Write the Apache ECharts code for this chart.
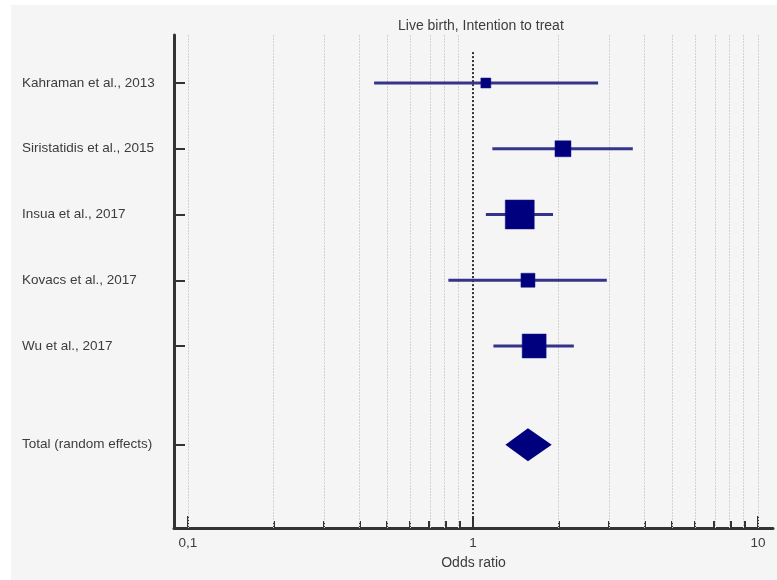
<!DOCTYPE html>
<html>
<head>
<meta charset="utf-8">
<script src="https://cdn.jsdelivr.net/npm/echarts@6/dist/echarts.min.js"></script>
<style>
  html, body { margin: 0; padding: 0; background: #ffffff; }
  #panel { position: absolute; left: 11px; top: 5px; width: 766px; height: 575px; background: #f5f5f5; }
  #main { position: absolute; left: 0; top: 0; width: 777px; height: 580px; }
</style>
</head>
<body>
<div id="panel"></div>
<div id="main"></div>
<script>
// ---- data ----
const studies = ['Kahraman et al., 2013', 'Siristatidis et al., 2015', 'Insua et al., 2017', 'Kovacs et al., 2017', 'Wu et al., 2017'];
const oddsRatio = [1.11, 2.07, 1.46, 1.56, 1.64];
const ciLower = [0.45, 1.17, 1.11, 0.82, 1.18];
const ciUpper = [2.75, 3.64, 1.91, 2.95, 2.26];
const weights = [5.1, 13.0, 42.7, 10.0, 29.2];
const rowPos = [1, 2, 3, 4, 5];

const totalLabel = 'Total (random effects)';
const totalOR = [1.56];
const totalLower = [1.30];
const totalUpper = [1.89];
const totalPos = [6.5];

const majorTicks = [0.1, 1, 10];
const majorTickLabels = ['0,1', '1', '10'];
const minorTicks = [0.2, 0.3, 0.4, 0.5, 0.6, 0.7, 0.8, 0.9, 2, 3, 4, 5, 6, 7, 8, 9];

const titleText = 'Live birth, Intention to treat';
const xName = 'Odds ratio';

// ---- build ----
const lg = v => Math.log10(v);
const FONT = '"Liberation Sans", Arial, sans-serif';
const TXT = '#3c3c3c';

const rowLabels = {};
studies.forEach((s, i) => { rowLabels[rowPos[i]] = s; });
rowLabels[totalPos[0]] = totalLabel;

const studyData = studies.map((s, i) => [lg(oddsRatio[i]), lg(ciLower[i]), lg(ciUpper[i]), rowPos[i], weights[i]]);
const totalData = [[lg(totalOR[0]), lg(totalLower[0]), lg(totalUpper[0]), totalPos[0]]];

const allTicks = majorTicks.concat(minorTicks).map(lg);
const yMin = 0.27, yMax = 7.768;
const refLineTop = 0.53;

const chart = echarts.init(document.getElementById('main'), null, { renderer: 'canvas' });
chart.setOption({
  backgroundColor: 'transparent',
  animation: false,
  title: {
    text: titleText,
    left: 393, top: 14,
    textStyle: { fontFamily: FONT, fontSize: 14, fontWeight: 'normal', color: TXT }
  },
  grid: { left: 174, top: 35, width: 599, height: 493, containLabel: false },
  xAxis: [
    {
      type: 'value', min: lg(0.1) - 0.049, max: lg(10) + 0.053,
      position: 'bottom',
      name: xName, nameLocation: 'middle', nameGap: 28,
      nameTextStyle: { fontFamily: FONT, fontSize: 14, color: TXT },
      axisLine: { show: true, onZero: false, lineStyle: { color: '#333', width: 3 } },
      axisTick: { show: true, inside: true, length: 12, customValues: majorTicks.map(lg), lineStyle: { color: '#333', width: 2 } },
      axisLabel: {
        show: true, margin: 8, customValues: majorTicks.map(lg),
        fontFamily: FONT, fontSize: 13.5, color: TXT,
        formatter: v => { const i = majorTicks.findIndex(t => Math.abs(lg(t) - v) < 1e-6); return i >= 0 ? majorTickLabels[i] : ''; }
      },
      splitLine: { show: false }
    },
    {
      type: 'value', min: lg(0.1) - 0.049, max: lg(10) + 0.053,
      position: 'bottom', gridIndex: 0,
      axisLine: { show: false, onZero: false },
      axisTick: { show: true, inside: true, length: 7, customValues: minorTicks.map(lg), lineStyle: { color: '#333', width: 2 } },
      axisLabel: { show: false },
      splitLine: { show: false }
    }
  ],
  yAxis: {
    type: 'value', inverse: true, min: yMin, max: yMax,
    axisLine: { show: true, onZero: false, lineStyle: { color: '#333', width: 3 } },
    axisTick: { show: true, inside: true, length: 11, customValues: rowPos.concat(totalPos), lineStyle: { color: '#333', width: 2 } },
    axisLabel: {
      show: true, customValues: rowPos.concat(totalPos), align: 'left', margin: 152,
      fontFamily: FONT, fontSize: 13.5, color: TXT,
      formatter: v => rowLabels[v] || ''
    },
    splitLine: { show: false }
  },
  series: [
    {
      type: 'custom',
      name: 'grid',
      xAxisIndex: 0, yAxisIndex: 0,
      data: [],
      renderItem: () => null,
      markLine: {
        silent: true, symbol: 'none', label: { show: false },
        lineStyle: { color: '#d2d2d2', type: [2, 1], width: 1 },
        data: allTicks.filter(v => Math.abs(v) > 1e-9).map(v => ({ xAxis: v }))
      },
      z: 1
    },
    {
      type: 'custom',
      name: 'ref',
      data: [],
      renderItem: () => null,
      markLine: {
        silent: true, symbol: 'none', label: { show: false },
        lineStyle: { color: '#333', type: [2, 2], width: 2 },
        data: [[{ coord: [lg(1), refLineTop] }, { coord: [lg(1), yMax] }]]
      },
      z: 2
    },
    {
      type: 'custom',
      name: 'studies',
      data: studyData,
      encode: { x: [0, 1, 2], y: 3 },
      renderItem: (params, api) => {
        const y = api.value(3);
        const c = api.coord([api.value(0), y]);
        const l = api.coord([api.value(1), y]);
        const h = api.coord([api.value(2), y]);
        const s = 4.44 * Math.sqrt(api.value(4));
        return {
          type: 'group',
          children: [
            { type: 'line', shape: { x1: l[0], y1: c[1], x2: h[0], y2: c[1] }, style: { stroke: '#34358a', lineWidth: 3 } },
            { type: 'rect', shape: { x: c[0] - s / 2, y: c[1] - s / 2, width: s, height: s }, style: { fill: '#00007f', stroke: '#1a1a80', lineWidth: 0.5 } }
          ]
        };
      },
      z: 5
    },
    {
      type: 'custom',
      name: 'total',
      data: totalData,
      encode: { x: [0, 1, 2], y: 3 },
      renderItem: (params, api) => {
        const y = api.value(3);
        const c = api.coord([api.value(0), y]);
        const l = api.coord([api.value(1), y]);
        const h = api.coord([api.value(2), y]);
        const hh = 16.5;
        return {
          type: 'polygon',
          shape: { points: [[l[0], c[1]], [c[0], c[1] - hh], [h[0], c[1]], [c[0], c[1] + hh]] },
          style: { fill: '#00007f' }
        };
      },
      z: 5
    }
  ]
});
</script>
</body>
</html>
